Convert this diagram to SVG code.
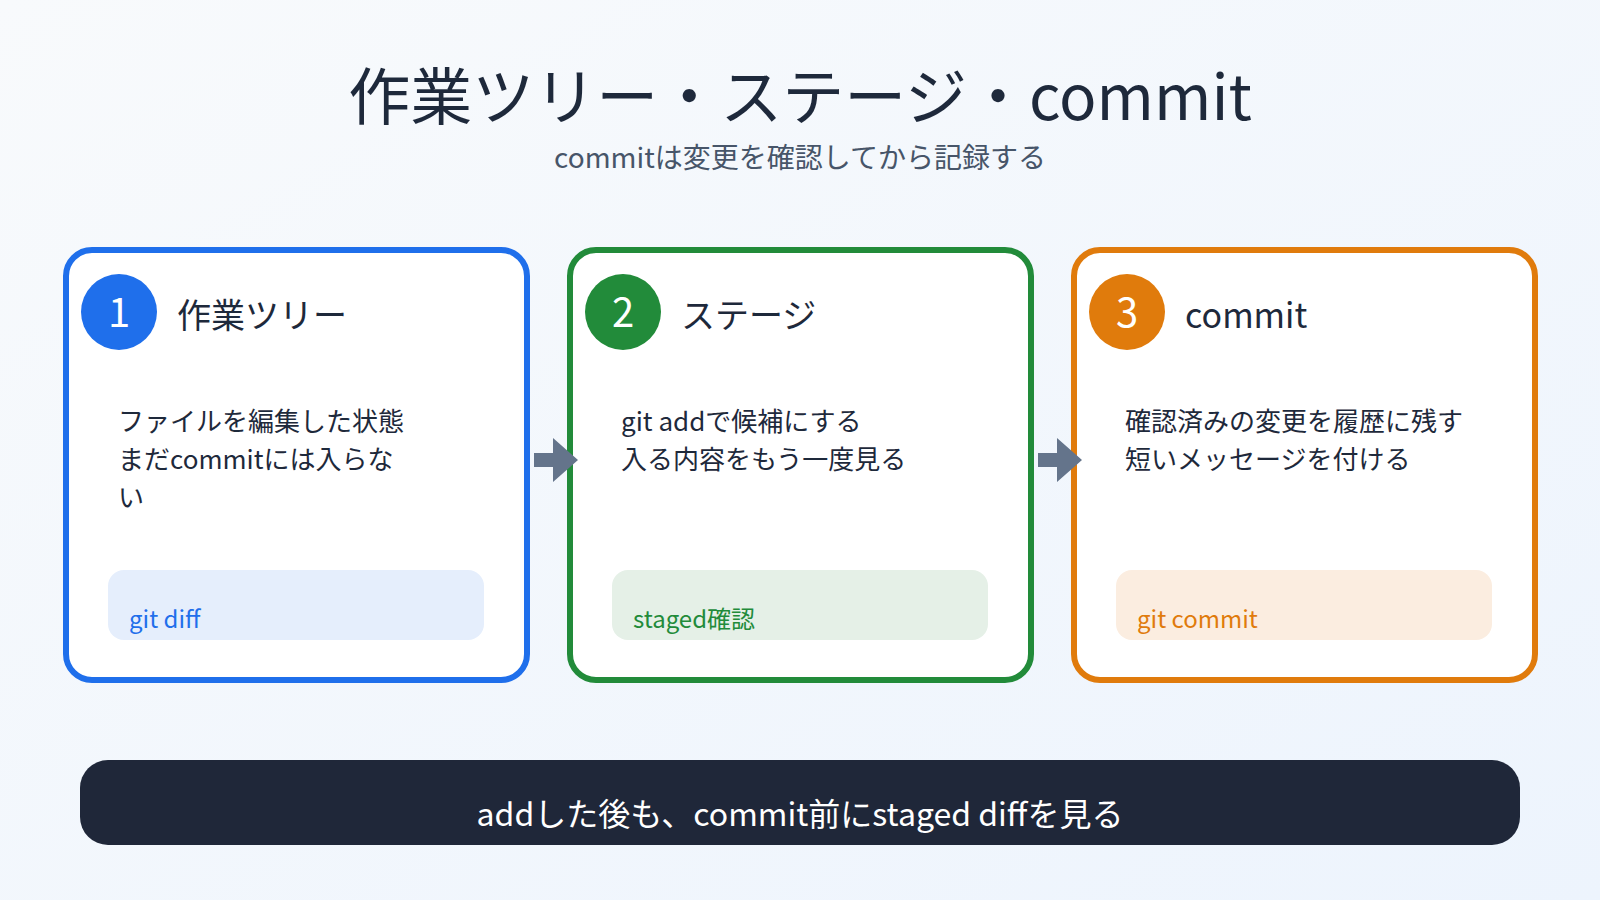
<svg xmlns="http://www.w3.org/2000/svg" width="1600" height="900" viewBox="0 0 1600 900">
<defs>
<linearGradient id="bg" x1="0" y1="0" x2="1" y2="1"><stop offset="0" stop-color="#f8fafc"/><stop offset="1" stop-color="#edf4fd"/></linearGradient>
<style>
text{font-family:"Noto Sans CJK JP","Noto Sans",sans-serif}
.card{fill:#fff;stroke-width:6}
.h{font-size:34px;fill:#1e293b}
.b{font-size:26px;fill:#1e293b}
.num{font-size:40px;fill:#fff;text-anchor:middle}
.tag{font-size:24px}
.arr{fill:#64748b}
</style>
</defs>
<rect width="1600" height="900" fill="url(#bg)"/>
<text x="800" y="120" text-anchor="middle" font-size="62" fill="#1e293b">作業ツリー・ステージ・commit</text>
<text x="800" y="168" text-anchor="middle" font-size="28" fill="#475569">commitは変更を確認してから記録する</text>
<g id="card1">
<rect class="card" x="66" y="250" width="461" height="430" rx="26" stroke="#1f6feb"/>
<circle cx="119" cy="312" r="38" fill="#1f6feb"/><text class="num" x="119" y="327">1</text>
<text class="h" x="177" y="328">作業ツリー</text>
<text class="b" x="118" y="431">ファイルを編集した状態</text>
<text class="b" x="118" y="469">まだcommitには入らな</text>
<text class="b" x="118" y="507">い</text>
<rect x="108" y="570" width="376" height="70" rx="16" fill="#e5eefc"/>
<text class="tag" x="129" y="628" fill="#1f6feb">git diff</text>
</g>
<g id="card2">
<rect class="card" x="570" y="250" width="461" height="430" rx="26" stroke="#228b3a"/>
<circle cx="623" cy="312" r="38" fill="#228b3a"/><text class="num" x="623" y="327">2</text>
<text class="h" x="681" y="328">ステージ</text>
<text class="b" x="621" y="431">git addで候補にする</text>
<text class="b" x="621" y="469">入る内容をもう一度見る</text>
<rect x="612" y="570" width="376" height="70" rx="16" fill="#e5f0e7"/>
<text class="tag" x="633" y="628" fill="#228b3a">staged確認</text>
</g>
<g id="card3">
<rect class="card" x="1074" y="250" width="461" height="430" rx="26" stroke="#e07b0c"/>
<circle cx="1127" cy="312" r="38" fill="#e07b0c"/><text class="num" x="1127" y="327">3</text>
<text class="h" x="1185" y="328">commit</text>
<text class="b" x="1125" y="431">確認済みの変更を履歴に残す</text>
<text class="b" x="1125" y="469">短いメッセージを付ける</text>
<rect x="1116" y="570" width="376" height="70" rx="16" fill="#fbede0"/>
<text class="tag" x="1137" y="628" fill="#e07b0c">git commit</text>
</g>
<g id="connectors">
<path class="arr" d="M534 453 H553 V438 L578 460 L553 482 V467 H534 Z"/>
<path class="arr" d="M1038 453 H1057 V438 L1082 460 L1057 482 V467 H1038 Z"/>
</g>
<g id="footer">
<rect x="80" y="760" width="1440" height="85" rx="28" fill="#1f2739"/>
<text x="800" y="826" text-anchor="middle" font-size="32" fill="#fff">addした後も、commit前にstaged diffを見る</text>
</g>
</svg>
